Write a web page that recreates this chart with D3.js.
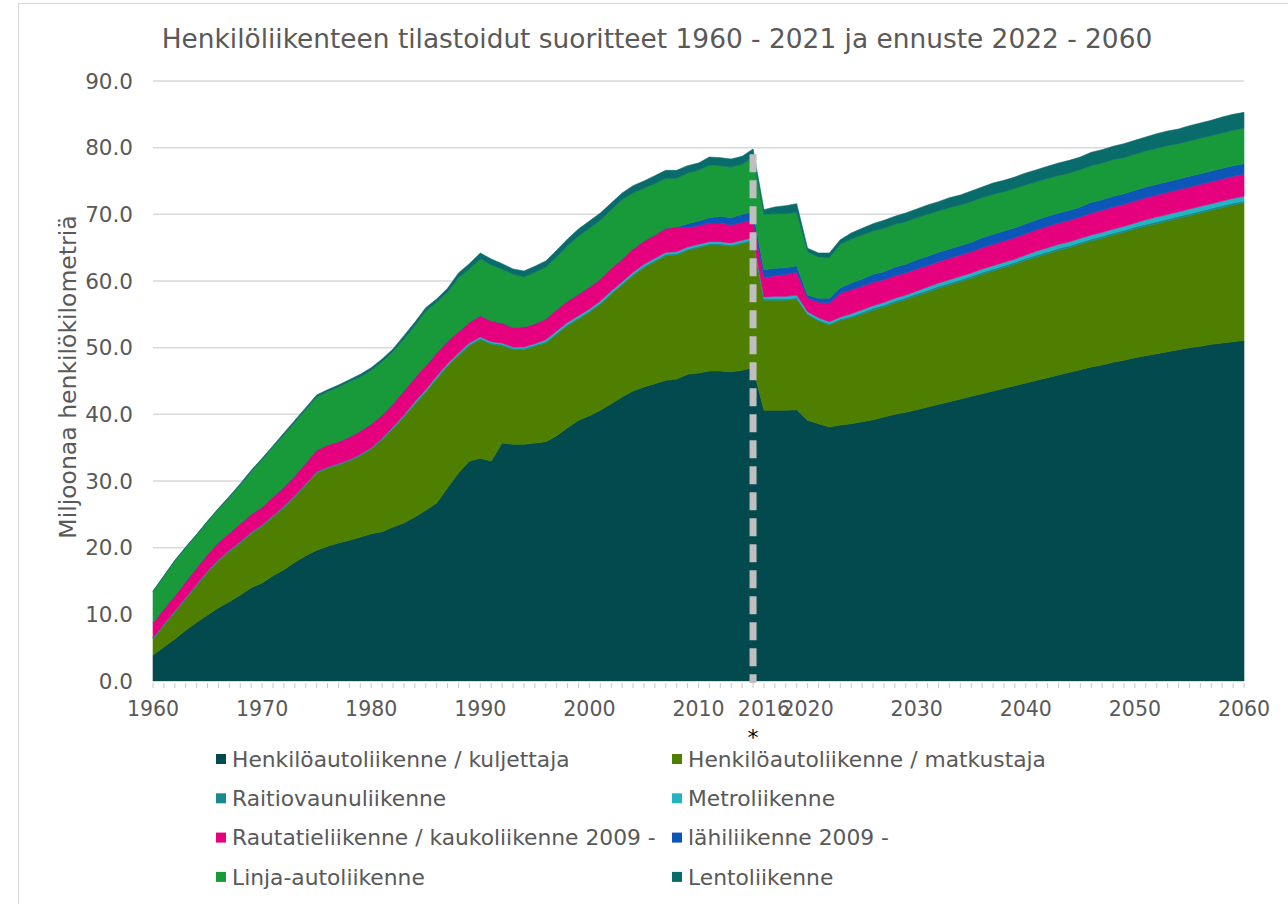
<!DOCTYPE html>
<html>
<head>
<meta charset="utf-8">
<script src="https://cdn.jsdelivr.net/npm/d3@7"></script>
<style>
  body { margin: 0; background: #fff; }
  text { font-family: "DejaVu Sans", Verdana, sans-serif; fill: #595959; }
</style>
</head>
<body>
<svg id="chart"></svg>
<script>
const width = 1288;
const height = 904;

// categories
const years = d3.range(1960, 2061);
const tickYears = [1960, 1970, 1980, 1990, 2000, 2010, 2016, 2020, 2030, 2040, 2050, 2060];
const yTicks = [0, 10, 20, 30, 40, 50, 60, 70, 80, 90];

// series values (miljoonaa henkilökilometriä), one value per year 1960-2060
const kuljettaja = [
  3.9, 5.1, 6.3, 7.6, 8.8, 9.9, 11.0, 11.9, 12.9, 14.0,
  14.7, 15.8, 16.7, 17.8, 18.8, 19.6, 20.2, 20.7, 21.1, 21.6,
  22.1, 22.4, 23.1, 23.7, 24.6, 25.6, 26.7, 29.0, 31.2, 33.0,
  33.4, 33.0, 35.7, 35.5, 35.5, 35.7, 35.9, 36.8, 38.0, 39.1,
  39.8, 40.6, 41.6, 42.6, 43.5, 44.1, 44.6, 45.1, 45.3, 46.0,
  46.2, 46.5, 46.5, 46.4, 46.6, 47.0, 40.6, 40.6, 40.6, 40.7,
  39.1, 38.6, 38.1, 38.4, 38.6, 38.9, 39.2, 39.6, 40.0, 40.3,
  40.7, 41.1, 41.5, 41.9, 42.3, 42.7, 43.1, 43.5, 43.9, 44.3,
  44.7, 45.1, 45.5, 45.9, 46.3, 46.7, 47.1, 47.4, 47.8, 48.1,
  48.5, 48.8, 49.1, 49.4, 49.7, 50.0, 50.2, 50.5, 50.7, 50.9,
  51.1
];
const matkustaja = [
  2.4, 3.2, 4.0, 4.7, 5.5, 6.4, 7.0, 7.5, 7.8, 8.1,
  8.5, 8.8, 9.3, 9.8, 10.6, 11.6, 11.7, 11.7, 11.9, 12.2,
  12.7, 13.8, 14.7, 15.9, 16.9, 17.7, 18.6, 18.2, 17.6, 17.3,
  17.8, 17.5, 14.6, 14.2, 14.2, 14.5, 14.8, 15.2, 15.3, 15.2,
  15.5, 15.9, 16.4, 16.8, 17.3, 17.9, 18.3, 18.7, 18.6, 18.6,
  18.8, 18.9, 18.9, 18.8, 19.0, 19.0, 16.5, 16.5, 16.5, 16.6,
  15.8, 15.4, 15.3, 15.7, 15.9, 16.1, 16.4, 16.5, 16.7, 16.9,
  17.1, 17.2, 17.4, 17.5, 17.6, 17.7, 17.9, 18.0, 18.1, 18.2,
  18.4, 18.5, 18.6, 18.7, 18.7, 18.8, 18.9, 19.0, 19.1, 19.2,
  19.3, 19.4, 19.5, 19.6, 19.7, 19.8, 20.0, 20.1, 20.3, 20.5,
  20.6
];
const raitiovaunu = [
  0.2, 0.2, 0.2, 0.2, 0.2, 0.2, 0.2, 0.2, 0.2, 0.2,
  0.2, 0.2, 0.2, 0.2, 0.2, 0.2, 0.2, 0.2, 0.2, 0.2,
  0.2, 0.2, 0.2, 0.2, 0.2, 0.2, 0.2, 0.2, 0.2, 0.2,
  0.2, 0.2, 0.2, 0.2, 0.2, 0.2, 0.2, 0.2, 0.2, 0.2,
  0.2, 0.2, 0.2, 0.2, 0.2, 0.2, 0.2, 0.2, 0.2, 0.2,
  0.2, 0.2, 0.2, 0.2, 0.2, 0.2, 0.2, 0.2, 0.2, 0.2,
  0.2, 0.2, 0.2, 0.2, 0.2, 0.3, 0.3, 0.3, 0.3, 0.3,
  0.3, 0.3, 0.3, 0.3, 0.3, 0.3, 0.3, 0.3, 0.3, 0.3,
  0.3, 0.3, 0.3, 0.3, 0.3, 0.3, 0.3, 0.3, 0.3, 0.3,
  0.3, 0.3, 0.3, 0.3, 0.3, 0.3, 0.3, 0.3, 0.3, 0.3,
  0.3
];
const metro = [
  0, 0, 0, 0, 0, 0, 0, 0, 0, 0,
  0, 0, 0, 0, 0, 0, 0, 0, 0, 0,
  0, 0, 0.1, 0.1, 0.2, 0.2, 0.2, 0.2, 0.2, 0.2,
  0.2, 0.2, 0.2, 0.2, 0.2, 0.2, 0.3, 0.3, 0.3, 0.3,
  0.3, 0.3, 0.3, 0.3, 0.3, 0.3, 0.3, 0.3, 0.3, 0.3,
  0.3, 0.3, 0.3, 0.3, 0.3, 0.3, 0.3, 0.4, 0.4, 0.4,
  0.3, 0.3, 0.3, 0.3, 0.4, 0.4, 0.4, 0.4, 0.4, 0.4,
  0.4, 0.5, 0.5, 0.5, 0.5, 0.5, 0.5, 0.5, 0.5, 0.5,
  0.5, 0.6, 0.6, 0.6, 0.6, 0.6, 0.6, 0.6, 0.6, 0.6,
  0.6, 0.7, 0.7, 0.7, 0.7, 0.7, 0.7, 0.7, 0.7, 0.7,
  0.7
];
const kaukoliikenne = [
  2.2, 2.3, 2.3, 2.4, 2.5, 2.5, 2.6, 2.6, 2.7, 2.7,
  2.7, 2.8, 2.9, 3.0, 3.1, 3.2, 3.3, 3.3, 3.4, 3.5,
  3.5, 3.5, 3.5, 3.6, 3.6, 3.6, 3.5, 3.4, 3.2, 3.1,
  3.2, 3.1, 3.0, 2.9, 3.0, 3.0, 3.1, 3.2, 3.2, 3.2,
  3.3, 3.3, 3.4, 3.4, 3.5, 3.5, 3.5, 3.6, 3.7, 2.9,
  2.8, 2.8, 2.8, 2.7, 2.7, 2.6, 2.9, 3.1, 3.3, 3.4,
  2.0, 2.3, 2.8, 3.6, 3.6, 3.5, 3.5, 3.4, 3.4, 3.3,
  3.3, 3.2, 3.2, 3.2, 3.2, 3.2, 3.2, 3.2, 3.2, 3.2,
  3.2, 3.2, 3.2, 3.2, 3.2, 3.2, 3.3, 3.3, 3.3, 3.3,
  3.3, 3.3, 3.3, 3.3, 3.3, 3.3, 3.3, 3.3, 3.3, 3.3,
  3.3
];
const lahiliikenne = [
  0, 0, 0, 0, 0, 0, 0, 0, 0, 0,
  0, 0, 0, 0, 0, 0, 0, 0, 0, 0,
  0, 0, 0, 0, 0, 0, 0, 0, 0, 0,
  0, 0, 0, 0, 0, 0, 0, 0, 0, 0,
  0, 0, 0, 0, 0, 0, 0, 0, 0, 0.6,
  0.7, 0.8, 1.0, 1.1, 1.2, 1.3, 1.2, 1.1, 1.0, 1.0,
  0.5, 0.6, 0.7, 0.8, 1.0, 1.1, 1.2, 1.2, 1.3, 1.3,
  1.4, 1.4, 1.4, 1.4, 1.4, 1.4, 1.5, 1.5, 1.5, 1.5,
  1.5, 1.5, 1.5, 1.5, 1.5, 1.5, 1.6, 1.6, 1.6, 1.6,
  1.6, 1.6, 1.6, 1.6, 1.6, 1.6, 1.6, 1.6, 1.6, 1.6,
  1.6
];
const linjaauto = [
  4.7, 4.9, 5.2, 5.1, 4.9, 4.9, 5.0, 5.3, 5.8, 6.4,
  7.1, 7.5, 7.8, 8.0, 8.0, 8.0, 8.0, 8.2, 8.3, 8.1,
  8.1, 8.0, 7.8, 7.8, 7.8, 8.2, 7.6, 7.3, 8.1, 8.0,
  8.5, 8.4, 8.1, 8.0, 7.5, 7.7, 7.8, 7.9, 8.3, 8.7,
  8.8, 8.8, 8.8, 8.9, 8.4, 7.9, 7.7, 7.5, 7.3, 7.6,
  7.6, 7.9, 7.6, 7.6, 7.5, 8.2, 8.3, 8.2, 8.1, 8.0,
  6.5, 6.2, 6.1, 6.5, 6.6, 6.6, 6.5, 6.5, 6.4, 6.4,
  6.3, 6.3, 6.2, 6.2, 6.1, 6.1, 6.0, 6.0, 5.9, 5.9,
  5.8, 5.7, 5.7, 5.6, 5.6, 5.6, 5.5, 5.5, 5.5, 5.4,
  5.4, 5.4, 5.4, 5.4, 5.3, 5.3, 5.3, 5.3, 5.3, 5.3,
  5.3
];
const lentoliikenne = [
  0.1, 0.1, 0.1, 0.1, 0.1, 0.1, 0.1, 0.2, 0.2, 0.2,
  0.2, 0.2, 0.3, 0.3, 0.3, 0.3, 0.3, 0.3, 0.3, 0.4,
  0.4, 0.4, 0.4, 0.5, 0.5, 0.5, 0.5, 0.6, 0.7, 0.8,
  0.9, 0.9, 0.8, 0.8, 0.9, 0.9, 0.9, 1.0, 1.0, 1.1,
  1.1, 1.1, 1.0, 1.0, 1.1, 1.1, 1.2, 1.2, 1.2, 1.1,
  1.1, 1.2, 1.2, 1.2, 1.2, 1.2, 0.7, 1.0, 1.2, 1.3,
  0.5, 0.6, 0.7, 0.7, 0.9, 1.0, 1.1, 1.2, 1.2, 1.3,
  1.3, 1.4, 1.4, 1.5, 1.5, 1.6, 1.6, 1.7, 1.7, 1.7,
  1.8, 1.8, 1.8, 1.9, 1.9, 1.9, 2.0, 2.0, 2.0, 2.1,
  2.1, 2.1, 2.2, 2.2, 2.2, 2.3, 2.3, 2.3, 2.4, 2.4,
  2.4
];

const seriesNames = [
  "Henkilöautoliikenne / kuljettaja",
  "Henkilöautoliikenne / matkustaja",
  "Raitiovaunuliikenne",
  "Metroliikenne",
  "Rautatieliikenne / kaukoliikenne 2009 -",
  "lähiliikenne 2009 -",
  "Linja-autoliikenne",
  "Lentoliikenne"
];
const seriesValues = [kuljettaja, matkustaja, raitiovaunu, metro, kaukoliikenne, lahiliikenne, linjaauto, lentoliikenne];
const colors = ["#034a4e", "#4e7f00", "#178a8c", "#22b4c0", "#e5007e", "#0c56b8", "#189a3a", "#0a6b6b"];

// table for d3.stack
const keys = seriesNames;
const table = years.map((yr, i) => {
  const row = { year: yr };
  keys.forEach((k, j) => { row[k] = seriesValues[j][i]; });
  return row;
});

const svg = d3.select("#chart")
  .attr("width", width)
  .attr("height", height);

// outer chart border
svg.append("rect")
  .attr("x", 18.5).attr("y", 3.5)
  .attr("width", width + 20).attr("height", height + 20)
  .attr("fill", "#fff")
  .attr("stroke", "#d9d9d9");

const margin = { left: 153, right: 44, top: 81, bottom: 223 };
const plotBottom = height - margin.bottom;

const x = d3.scaleLinear()
  .domain([1960, 2060])
  .range([margin.left, width - margin.right]);

const y = d3.scaleLinear()
  .domain([0, 90])
  .range([plotBottom, margin.top]);

// gridlines
svg.append("g")
  .selectAll("line")
  .data(yTicks)
  .join("line")
  .attr("x1", x(1960)).attr("x2", x(2060))
  .attr("y1", d => y(d)).attr("y2", d => y(d))
  .attr("stroke", "#d9d9d9")
  .attr("stroke-width", 1.5);

// y labels
svg.append("g")
  .selectAll("text")
  .data(yTicks)
  .join("text")
  .attr("x", 133)
  .attr("y", d => y(d))
  .attr("dy", "0.35em")
  .attr("text-anchor", "end")
  .style("font-size", "21.5px")
  .text(d => d.toFixed(1));

// stacked areas
const stack = d3.stack().keys(keys);
const layers = stack(table);

const area = d3.area()
  .x(d => x(d.data.year))
  .y0(d => y(d[0]))
  .y1(d => y(d[1]));

svg.append("g")
  .selectAll("path")
  .data(layers)
  .join("path")
  .attr("d", area)
  .attr("fill", (d, i) => colors[i])
  .attr("stroke", (d, i) => colors[i])
  .attr("stroke-width", 0.6);

// x axis: minor yearly ticks
const xAxis = svg.append("g");
xAxis.append("line")
  .attr("x1", x(1960)).attr("x2", x(2060))
  .attr("y1", plotBottom + 0.5).attr("y2", plotBottom + 0.5)
  .attr("stroke", "#d9d9d9");
xAxis.selectAll("line.tick")
  .data(years)
  .join("line")
  .attr("class", "tick")
  .attr("x1", d => x(d)).attr("x2", d => x(d))
  .attr("y1", plotBottom + 2).attr("y2", plotBottom + 7)
  .attr("stroke", "#c8c8c8");
xAxis.selectAll("text")
  .data(tickYears)
  .join("text")
  .attr("x", d => x(d))
  .attr("y", plotBottom + 35)
  .attr("text-anchor", "middle")
  .style("font-size", "20.5px")
  .text(d => d);

// dashed separator between statistics and forecast
svg.append("line")
  .attr("x1", x(2015)).attr("x2", x(2015))
  .attr("y1", y(79)).attr("y2", plotBottom + 2)
  .attr("stroke", "#bfbfbf")
  .attr("stroke-width", 7)
  .attr("stroke-dasharray", "18,8");

svg.append("text")
  .attr("x", x(2015))
  .attr("y", plotBottom + 64)
  .attr("text-anchor", "middle")
  .style("font-size", "22px")
  .style("fill", "#000")
  .text("*");

// title
svg.append("text")
  .attr("x", 657)
  .attr("y", 48)
  .attr("text-anchor", "middle")
  .style("font-size", "26.4px")
  .text("Henkilöliikenteen tilastoidut suoritteet 1960 - 2021 ja ennuste 2022 - 2060");

// y axis title
svg.append("text")
  .attr("transform", "translate(76, 377) rotate(-90)")
  .attr("text-anchor", "middle")
  .style("font-size", "23.5px")
  .text("Miljoonaa henkilökilometriä");

// legend
const legend = svg.append("g");
const items = legend.selectAll("g")
  .data(seriesNames)
  .join("g")
  .attr("transform", (d, i) => `translate(${i % 2 === 0 ? 216 : 672}, ${759 + Math.floor(i / 2) * 39.3})`);
items.append("rect")
  .attr("x", 0).attr("y", -5)
  .attr("width", 10).attr("height", 10)
  .attr("fill", (d, i) => colors[i]);
items.append("text")
  .attr("x", 16)
  .attr("dy", "0.35em")
  .style("font-size", "21.8px")
  .text(d => d);
</script>
</body>
</html>
